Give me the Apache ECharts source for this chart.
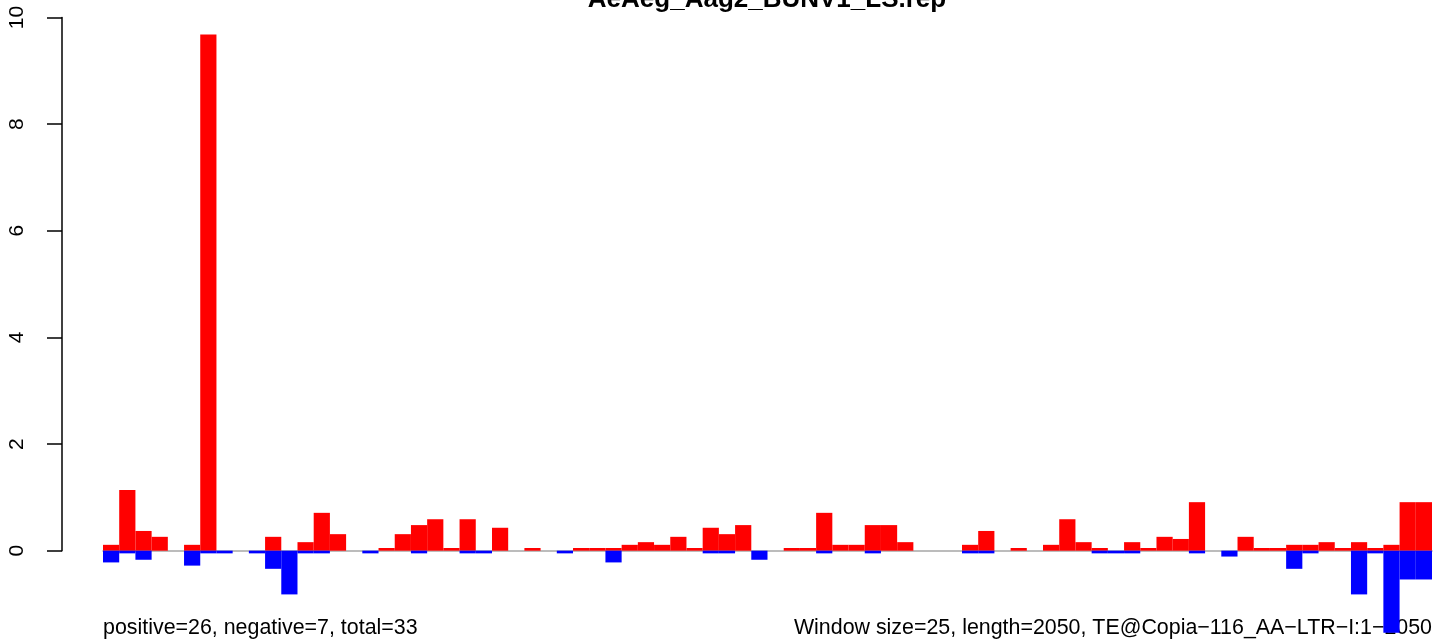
<!DOCTYPE html>
<html>
<head>
<meta charset="utf-8">
<script src="https://cdn.jsdelivr.net/npm/echarts@6/dist/echarts.min.js"></script>
<style>
  html, body { margin: 0; padding: 0; background: #fff; }
  #chart { width: 1452px; height: 641px; }
</style>
</head>
<body>
<div id="chart"></div>
<script>
// 82 windows of 25 nt along the 2050 nt element
var windowStarts = [];
for (var s = 1; s <= 2050; s += 25) windowStarts.push(String(s));

// sense (positive) coverage per window
var positive = [
  0.11, 1.14, 0.37, 0.26, 0, 0.11, 9.68, 0, 0, 0,
  0.26, 0, 0.16, 0.71, 0.31, 0, 0, 0.05, 0.31, 0.48,
  0.59, 0.05, 0.59, 0, 0.43, 0, 0.05, 0, 0, 0.05,
  0.05, 0.05, 0.11, 0.16, 0.11, 0.26, 0.05, 0.43, 0.31, 0.48,
  0, 0, 0.05, 0.05, 0.71, 0.11, 0.11, 0.48, 0.48, 0.16,
  0, 0, 0, 0.11, 0.37, 0, 0.05, 0, 0.11, 0.59,
  0.16, 0.05, 0, 0.16, 0.05, 0.26, 0.22, 0.91, 0, 0,
  0.26, 0.05, 0.05, 0.11, 0.11, 0.16, 0.05, 0.16, 0.05, 0.11,
  0.91, 0.91
];

// antisense (negative) coverage per window
var negative = [
  -0.22, -0.05, -0.17, 0, 0, -0.28, -0.05, -0.05, 0, -0.05,
  -0.34, -0.82, -0.05, -0.05, 0, 0, -0.05, 0, 0, -0.05,
  0, 0, -0.05, -0.05, 0, 0, 0, 0, -0.05, 0,
  0, -0.22, 0, 0, 0, 0, 0, -0.05, -0.05, 0,
  -0.17, 0, 0, 0, -0.05, 0, 0, -0.05, 0, 0,
  0, 0, 0, -0.05, -0.05, 0, 0, 0, 0, 0,
  0, -0.05, -0.05, -0.05, 0, 0, 0, -0.05, 0, -0.11,
  0, 0, 0, -0.34, -0.05, 0, 0, -0.82, -0.05, -1.54,
  -0.54, -0.54
];

var yTicks = [0, 2, 4, 6, 8, 10];

var chartTitle = 'AeAeg_Aag2_BUNV1_LS.rep';
var leftNote = 'positive=26, negative=7, total=33';
var rightNote = 'Window size=25, length=2050, TE@Copia\u2212116_AA\u2212LTR\u2212I:1\u22122050';

var chart = echarts.init(document.getElementById('chart'), null, { renderer: 'canvas' });

var option = {
  animation: false,
  backgroundColor: '#ffffff',
  grid: [
    // data area: 0 at y=550.7, 10 at y=17.5
    { left: 103, right: 20, top: 17.5, bottom: 5 },
    // grid that only carries the visible y axis (0..10)
    { left: 62, width: 1, top: 17.5, height: 533.2 }
  ],
  xAxis: [
    {
      type: 'category',
      gridIndex: 0,
      data: windowStarts,
      axisLine: { show: true, onZero: true, lineStyle: { color: '#a6a6a6', width: 1.5 } },
      axisTick: { show: false },
      axisLabel: { show: false },
      splitLine: { show: false }
    },
    { type: 'value', gridIndex: 1, show: false, min: 0, max: 1 }
  ],
  yAxis: [
    { type: 'value', gridIndex: 0, min: -1.6, max: 10, show: false },
    {
      type: 'value',
      gridIndex: 1,
      min: yTicks[0],
      max: yTicks[yTicks.length - 1],
      interval: 2,
      axisLine: { show: true, lineStyle: { color: '#000', width: 1.5 } },
      axisTick: { show: true, length: 15, lineStyle: { color: '#000', width: 1.5 } },
      axisLabel: {
        rotate: 90,
        margin: 34,
        color: '#000',
        fontSize: 21,
        fontFamily: 'Liberation Sans'
      },
      splitLine: { show: false }
    }
  ],
  series: [
    {
      name: 'positive',
      type: 'bar',
      xAxisIndex: 0,
      yAxisIndex: 0,
      data: positive,
      barGap: '-100%',
      barCategoryGap: '0%',
      itemStyle: { color: '#ff0000' }
    },
    {
      name: 'negative',
      type: 'bar',
      xAxisIndex: 0,
      yAxisIndex: 0,
      data: negative,
      barGap: '-100%',
      barCategoryGap: '0%',
      itemStyle: { color: '#0000ff' }
    }
  ],
  graphic: [
    {
      type: 'text', x: 767, y: 13,
      style: { text: chartTitle, fill: '#000', font: 'bold 26px "Liberation Sans"',
               textAlign: 'center', textVerticalAlign: 'bottom' }
    },
    {
      type: 'text', x: 103, y: 639,
      style: { text: leftNote, fill: '#000', font: '21.4px "Liberation Sans"',
               textAlign: 'left', textVerticalAlign: 'bottom' }
    },
    {
      type: 'text', x: 1432, y: 639,
      style: { text: rightNote, fill: '#000', font: '21.4px "Liberation Sans"',
               textAlign: 'right', textVerticalAlign: 'bottom' }
    }
  ]
};

chart.setOption(option);
</script>
</body>
</html>
